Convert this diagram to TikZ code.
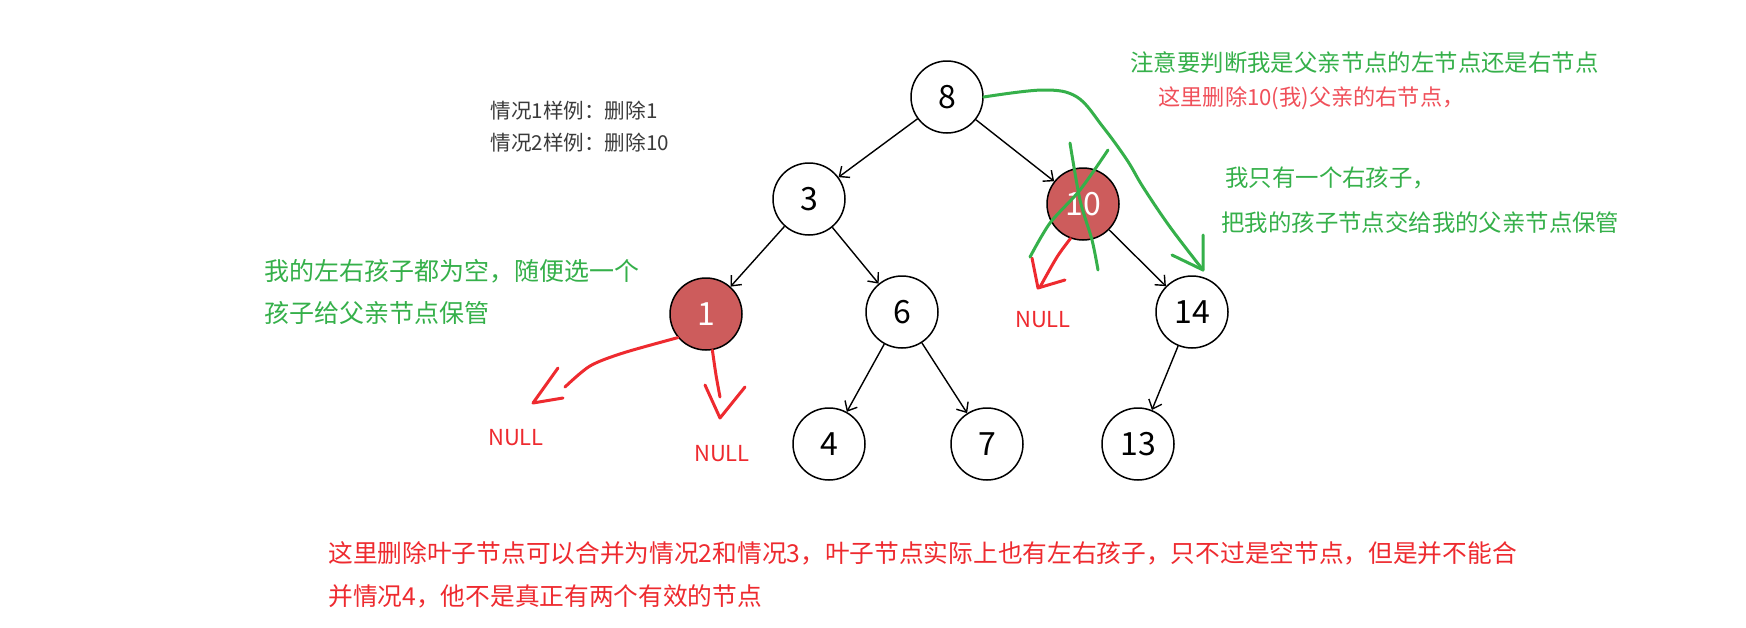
\documentclass[tikz,border=0pt]{standalone}
\usepackage{fontspec}
\setmainfont{Noto Sans CJK SC}
\usetikzlibrary{arrows.meta}
\definecolor{nodered}{HTML}{CD5C5C}
\definecolor{markgreen}{HTML}{35B04A}
\definecolor{markred}{HTML}{EE2A2F}
\definecolor{notered}{HTML}{F0505A}
\definecolor{infogray}{HTML}{3A3A3A}

\begin{document}
\begin{tikzpicture}[
    x=0.5pt, y=-0.5pt,
    treenode/.style={circle, draw, line width=0.75pt, minimum size=36pt, inner sep=0pt, fill=white, font=\fontsize{16}{18}\selectfont},
    delnode/.style={treenode, fill=nodered, text=white},
    treeedge/.style={-{Straight Barb[length=4pt, width=7pt]}, line width=0.7pt},
    note/.style={anchor=west, inner sep=0pt, align=left, font=\fontsize{11.7}{14}\selectfont},
    nulltext/.style={inner sep=0pt, text=markred, font=\fontsize{11}{13}\selectfont},
    scribble/.style={line width=1.5pt, line cap=round, line join=round},
]
    \fill[white] (0,0) rectangle (1746,627);

    % the tree
    \node[treenode] (n8) at (947,97) {8};
    \node[treenode] (n3) at (809,199) {3};
    \node[delnode] (n10) at (1083,204) {10};
    \node[delnode] (n1) at (706,314) {1};
    \node[treenode] (n6) at (902,312) {6};
    \node[treenode] (n14) at (1192,312) {14};
    \node[treenode] (n4) at (829,444) {4};
    \node[treenode] (n7) at (987,444) {7};
    \node[treenode] (n13) at (1138,444) {13};
    \foreach \a/\b in {n8/n3, n8/n10, n3/n1, n3/n6, n6/n4, n6/n7, n10/n14, n14/n13}
        \draw[treeedge] (\a) -- (\b);

    % case samples
    \node[note, text=infogray, font=\fontsize{10.3}{16}\selectfont] (cases) at (490,127) {情况1样例：删除1\\情况2样例：删除10};

    % case 1: leaf 1
    \node[note, text=markgreen, font=\fontsize{12.5}{21}\selectfont] (leafnote) at (264,292) {我的左右孩子都为空，随便选一个\\孩子给父亲节点保管};
    \node[nulltext] (null1) at (516,438) {NULL};
    \node[nulltext] (null2) at (722,454) {NULL};
    \draw[scribble, markred] plot[smooth] coordinates {(n1.220) (623,353) (590,366) (565,387)};
    \draw[scribble, markred] (558,368) -- (533,403) -- (563,398);
    \draw[scribble, markred] plot[smooth] coordinates {(n1.280) (716,375) (720,397)};
    \draw[scribble, markred] (705,385) -- (720,418) -- (745,387);

    % case 2: node 10
    \node[nulltext] (null3) at (1043,320) {NULL};
    \draw[scribble, markred] plot[smooth] coordinates {(n10.250) (1057,257) (1040,287)};
    \draw[scribble, markred] (1032,258) -- (1038,288) -- (1065,280);
    \draw[scribble, markgreen] plot[smooth] coordinates {(1070,143) (1080,200) (1092,240) (1098,270)};
    \draw[scribble, markgreen] plot[smooth] coordinates {(1108,150) (1080,190) (1050,223) (1030,257)};

    % hand the child to the parent
    \coordinate (gtip) at (1203,270);
    \draw[scribble, markgreen] plot[smooth, tension=0.6] coordinates {(n8.east) (1043,90) (1077,97) (1103,127) (1127,160) (1143,187) (1170,227) (gtip)};
    \draw[scribble, markgreen] (1203,235) -- (gtip) -- (1172,255);

    \node[note, text=markgreen] (side1) at (1130,63) {注意要判断我是父亲节点的左节点还是右节点};
    \node[note, text=notered, font=\fontsize{11.1}{13}\selectfont] (side2) at (1158,98) {这里删除10(我)父亲的右节点，};
    \node[note, text=markgreen] (side3) at (1225,178) {我只有一个右孩子，};
    \node[note, text=markgreen] (side4) at (1221,223) {把我的孩子节点交给我的父亲节点保管};

    % summary
    \node[note, text=markred, font=\fontsize{12.35}{21.5}\selectfont] (summary) at (328,574.5) {这里删除叶子节点可以合并为情况2和情况3，叶子节点实际上也有左右孩子，只不过是空节点，但是并不能合\\并情况4，他不是真正有两个有效的节点};
\end{tikzpicture}
\end{document}
